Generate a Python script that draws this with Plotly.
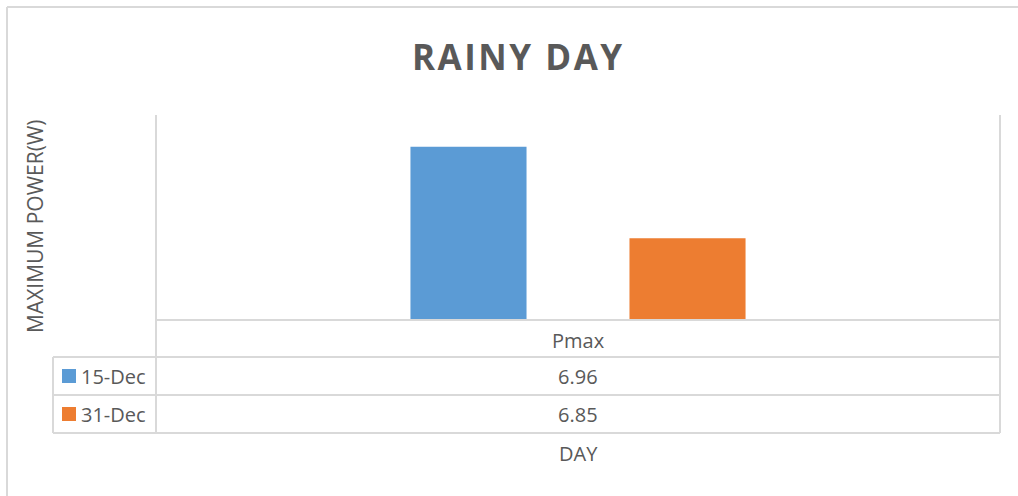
import plotly.graph_objects as go

# Data
categories = ["Pmax"]
series_names = ["15-Dec", "31-Dec"]
series_values = [[6.96], [6.85]]
series_colors = ["#5B9BD5", "#ED7D31"]
chart_title = "RAINY DAY"
y_title = "MAXIMUM POWER(W)"
x_title = "DAY"
y_range = [6.752, 6.998]

W, H = 1018, 496
GRID = "#D9D9D9"
TEXT = "#595959"
FONT = "Open Sans"


def px(x):
    return x / W


def py(y):
    return 1 - y / H


# Plot area in pixels
L, R, T, B = 156, 1000, 115, 320
ROW1, ROW2, ROW3 = 357, 395, 433
LEG_L = 53

fig = go.Figure()
for name, vals, color in zip(series_names, series_values, series_colors):
    fig.add_trace(go.Bar(x=categories, y=vals, name=name, marker_color=color,
                         marker_line_width=0, showlegend=False))

shapes = []


def hline(x0, x1, y):
    shapes.append(dict(type="line", xref="paper", yref="paper",
                       x0=px(x0), x1=px(x1), y0=py(y), y1=py(y),
                       line=dict(color=GRID, width=2)))


def vline(x, y0, y1):
    shapes.append(dict(type="line", xref="paper", yref="paper",
                       x0=px(x), x1=px(x), y0=py(y0), y1=py(y1),
                       line=dict(color=GRID, width=2)))


# chart border
hline(7, W + 5, 7)
vline(7, 7, H + 5)
# data table grid
hline(L, R, B)
hline(LEG_L, R, ROW1)
hline(LEG_L, R, ROW2)
hline(LEG_L, R, ROW3)
vline(L, T, ROW3)
vline(R, T, ROW3)
vline(LEG_L, ROW1, ROW3)

annotations = []


def text(x, y, s, size=20, xanchor="center", color=TEXT, **kw):
    annotations.append(dict(x=px(x), y=py(y), xref="paper", yref="paper",
                            text=s, showarrow=False, xanchor=xanchor, yanchor="middle",
                            font=dict(family=FONT, size=size, color=color), **kw))


cx = (L + R) / 2
text(cx, 340, categories[0])
row_centers = [(ROW1 + ROW2) / 2, (ROW2 + ROW3) / 2]
for name, vals, color, yc in zip(series_names, series_values, series_colors, row_centers):
    text(cx, yc, f"{vals[0]:.2f}")
    text(79, yc, name, xanchor="left")
    shapes.append(dict(type="rect", xref="paper", yref="paper",
                       x0=px(62), x1=px(76), y0=py(yc - 7), y1=py(yc + 7),
                       fillcolor=color, line=dict(width=0)))
text(cx, 453, x_title)
text(35, 227, y_title, size=21, textangle=-90)
text(518, 56, f'<span style="letter-spacing:2.5px">{chart_title}</span>', size=35)
annotations[-1]["font"]["weight"] = "bold"

fig.update_layout(
    width=W, height=H,
    margin=dict(l=0, r=0, t=0, b=0),
    paper_bgcolor="white", plot_bgcolor="white",
    barmode="group", bargap=0.481, bargroupgap=0.47,
    xaxis=dict(domain=[px(L), px(R)], showticklabels=False, showgrid=False,
               zeroline=False, showline=False, ticks=""),
    yaxis=dict(domain=[py(B), py(T)], range=y_range, showticklabels=False,
               showgrid=False, zeroline=False, showline=False, ticks=""),
    shapes=shapes, annotations=annotations,
)

fig.write_html("out.html")
